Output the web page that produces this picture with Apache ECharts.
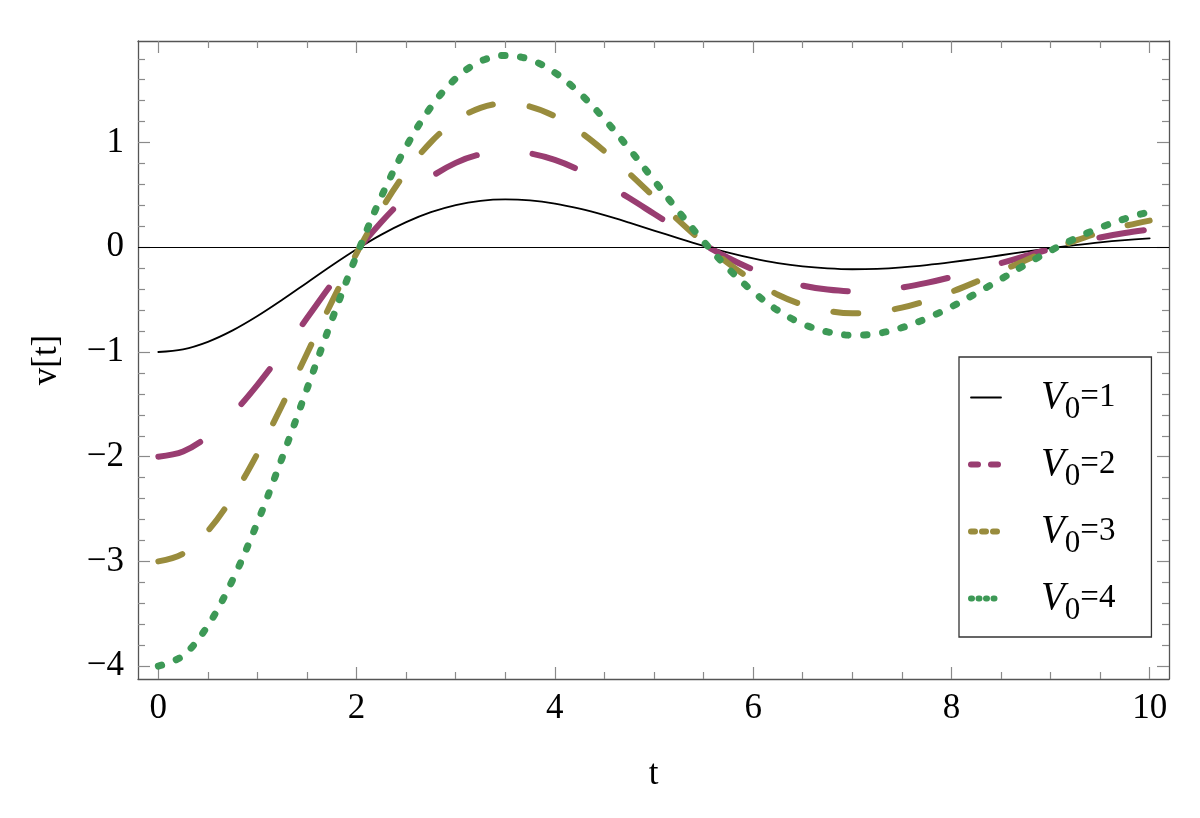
<!DOCTYPE html>
<html>
<head>
<meta charset="utf-8">
<script src="https://cdn.jsdelivr.net/npm/echarts@6/dist/echarts.min.js"></script>
<style>
  html, body { margin: 0; padding: 0; background: #fff; }
  #chart { width: 1200px; height: 818px; }
</style>
</head>
<body>
<div id="chart"></div>
<script>
// ---- data ----
const tValues = [0, 0.25, 0.5, 0.75, 1, 1.25, 1.5, 1.75, 2, 2.25, 2.5, 2.75, 3, 3.25, 3.5, 3.75, 4, 4.25, 4.5, 4.75, 5,
  5.25, 5.5, 5.75, 6, 6.25, 6.5, 6.75, 7, 7.25, 7.5, 7.75, 8, 8.25, 8.5, 8.75, 9, 9.25, 9.5, 9.75, 10];

const v1 = [-1.000, -0.975, -0.903, -0.794, -0.657, -0.502, -0.338, -0.174, -0.019, 0.121, 0.240, 0.335, 0.403, 0.444,
  0.458, 0.448, 0.417, 0.368, 0.306, 0.235, 0.160, 0.085, 0.014, -0.051, -0.106, -0.151, -0.183, -0.202, -0.210,
  -0.206, -0.192, -0.170, -0.142, -0.110, -0.076, -0.041, -0.008, 0.021, 0.047, 0.068, 0.085];
const v2 = [-2.000, -1.950, -1.806, -1.588, -1.314, -1.004, -0.676, -0.348, -0.038, 0.242, 0.480, 0.670, 0.806, 0.888,
  0.916, 0.896, 0.834, 0.736, 0.612, 0.470, 0.320, 0.170, 0.028, -0.102, -0.212, -0.302, -0.366, -0.404, -0.420,
  -0.412, -0.384, -0.340, -0.284, -0.220, -0.152, -0.082, -0.016, 0.042, 0.094, 0.136, 0.170];
const v3 = [-3.000, -2.925, -2.709, -2.382, -1.971, -1.506, -1.014, -0.522, -0.057, 0.363, 0.720, 1.005, 1.209, 1.332,
  1.374, 1.344, 1.251, 1.104, 0.918, 0.705, 0.480, 0.255, 0.042, -0.153, -0.318, -0.453, -0.549, -0.606, -0.630,
  -0.618, -0.576, -0.510, -0.426, -0.330, -0.228, -0.123, -0.024, 0.063, 0.141, 0.204, 0.255];
const v4 = [-4.000, -3.900, -3.612, -3.176, -2.628, -2.008, -1.352, -0.696, -0.076, 0.484, 0.960, 1.340, 1.612, 1.776,
  1.832, 1.792, 1.668, 1.472, 1.224, 0.940, 0.640, 0.340, 0.056, -0.204, -0.424, -0.604, -0.732, -0.808, -0.840,
  -0.824, -0.768, -0.680, -0.568, -0.440, -0.304, -0.164, -0.032, 0.084, 0.188, 0.272, 0.340];

const seriesV0 = ['1', '2', '3', '4'];
const xMajor = [0, 2, 4, 6, 8, 10];
const xMinor = [0.5, 1, 1.5, 2.5, 3, 3.5, 4.5, 5, 5.5, 6.5, 7, 7.5, 8.5, 9, 9.5];
const yMajor = [-4, -3, -2, -1, 0, 1];
const yMinor = [-3.8, -3.6, -3.4, -3.2, -2.8, -2.6, -2.4, -2.2, -1.8, -1.6, -1.4, -1.2, -0.8, -0.6, -0.4, -0.2,
  0.2, 0.4, 0.6, 0.8, 1.2, 1.4, 1.6, 1.8];
const xTitle = 't';
const yTitle = 'v[t]';

// ---- chart ----
const X_MIN = -0.205, X_MAX = 10.195, Y_MIN = -4.123, Y_MAX = 1.97;
const FONT = "'Liberation Serif', 'Times New Roman', Times, serif";
const frameColor = '#555';
const tickColor = '#8a8a8a';

function xAxis(position, ticks, len, labels, line, extra) {
  return Object.assign({
    type: 'value', min: X_MIN, max: X_MAX, position: position,
    axisLine: { show: line, onZero: false, lineStyle: { color: frameColor, width: 1.3 } },
    axisTick: { show: true, inside: true, length: len, customValues: ticks, lineStyle: { color: tickColor, width: 1.2 } },
    axisLabel: labels ? { show: true, customValues: ticks, fontFamily: FONT, fontSize: 35, color: '#000', margin: 12 } : { show: false },
    splitLine: { show: false }
  }, extra || {});
}
function yAxis(position, ticks, len, labels, line, extra) {
  return Object.assign({
    type: 'value', min: Y_MIN, max: Y_MAX, position: position,
    axisLine: { show: line, onZero: false, lineStyle: { color: frameColor, width: 1.3 } },
    axisTick: { show: true, inside: true, length: len, customValues: ticks, lineStyle: { color: tickColor, width: 1.2 } },
    axisLabel: labels ? { show: true, customValues: ticks, fontFamily: FONT, fontSize: 35, color: '#000', margin: 14,
      formatter: v => String(v).replace('-', '\u2212') } : { show: false },
    splitLine: { show: false }
  }, extra || {});
}

const colors = ['#000000', '#993D71', '#998C3D', '#3D9956'];
const widths = [1.8, 6, 6, 7];
const dashes = ['solid', [45, 56], [25, 37], [3.5, 15.5]];
const legendDashes = ['solid', [7, 13], [4, 7], [1, 6.5]];
const values = [v1, v2, v3, v4];

const names = seriesV0.map(k => 'V0=' + k);

const series = values.map((vals, i) => {
  const s = {
    name: names[i], type: 'line', xAxisIndex: 0, yAxisIndex: 0,
    data: tValues.map((t, j) => [t, vals[j]]),
    smooth: 0.35, symbol: 'none', showSymbol: false,
    lineStyle: { color: colors[i], width: widths[i], type: dashes[i], cap: 'round', join: 'round' },
    itemStyle: { color: colors[i] },
    z: 3 + i
  };
  if (i === 0) {
    s.markLine = {
      silent: true, symbol: 'none', animation: false,
      label: { show: false },
      lineStyle: { color: '#000', width: 1.1, type: 'solid' },
      data: [{ yAxis: 0 }]
    };
  }
  return s;
});

const option = {
  animation: false,
  backgroundColor: '#fff',
  grid: { left: 138, right: 31, top: 41, bottom: 139, containLabel: false },
  xAxis: [
    xAxis('bottom', xMajor, 12, true, true, { name: xTitle, nameLocation: 'middle', nameGap: 78,
      nameTextStyle: { fontFamily: FONT, fontSize: 35, color: '#000' } }),
    xAxis('bottom', xMinor, 7, false, false),
    xAxis('top', xMajor, 12, false, true),
    xAxis('top', xMinor, 7, false, false)
  ],
  yAxis: [
    yAxis('left', yMajor, 12, true, true, { name: yTitle, nameLocation: 'middle', nameGap: 74, nameRotate: 90,
      nameTextStyle: { fontFamily: FONT, fontSize: 35, color: '#000' } }),
    yAxis('left', yMinor, 7, false, false),
    yAxis('right', yMajor, 12, false, true),
    yAxis('right', yMinor, 7, false, false)
  ],
  legend: {
    orient: 'vertical', left: 959, top: 357,
    borderColor: '#333', borderWidth: 1.3,
    padding: [13, 36, 11, 9],
    itemWidth: 30, itemHeight: 1, itemGap: 12,
    selectedMode: false,
    textStyle: {
      fontFamily: FONT, color: '#000', fontSize: 32, padding: [0, 0, 0, 35],
      rich: {
        v: { fontFamily: FONT, fontStyle: 'italic', fontSize: 39, lineHeight: 44, color: '#000' },
        s: { fontFamily: FONT, fontSize: 31, lineHeight: 44, padding: [24, 0, 0, 0], color: '#000' },
        e: { fontFamily: FONT, fontSize: 33, lineHeight: 44, color: '#000' }
      }
    },
    formatter: name => '{v|V}{s|0}{e|=' + name.split('=')[1] + '}',
    data: names.map((n, i) => ({
      name: n,
      itemStyle: { color: 'rgba(0,0,0,0)', opacity: 0, borderWidth: 0 },
      lineStyle: { color: colors[i], width: i === 0 ? 1.8 : 6, type: legendDashes[i], cap: 'round' }
    }))
  },
  series: series
};

const chart = echarts.init(document.getElementById('chart'), null, { renderer: 'canvas' });
chart.setOption(option);
</script>
</body>
</html>
